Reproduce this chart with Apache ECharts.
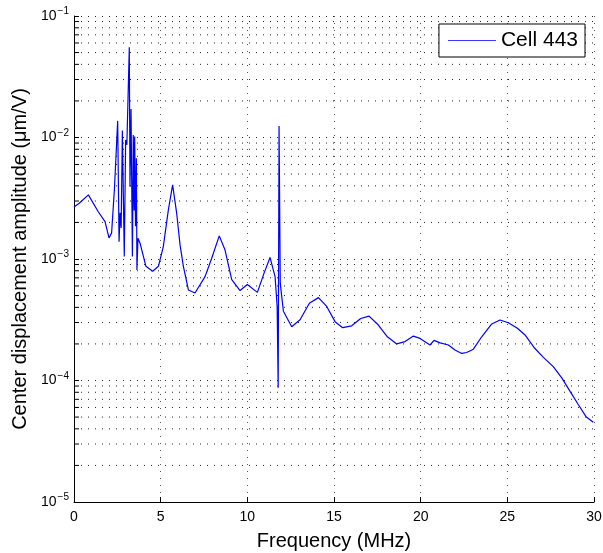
<!DOCTYPE html>
<html>
<head>
<meta charset="utf-8">
<script src="https://cdn.jsdelivr.net/npm/echarts@6/dist/echarts.min.js"></script>
<style>html,body{margin:0;padding:0;background:#fff}#c{width:603px;height:553px}</style>
</head>
<body>
<div id="c"></div>
<script>
var freq = [0.00,0.30,0.83,1.40,1.79,2.02,2.17,2.33,2.52,2.60,2.66,2.72,2.79,2.90,2.98,3.05,3.19,3.23,3.29,3.37,3.42,3.47,3.50,3.55,3.60,3.63,3.69,3.81,4.15,4.54,4.87,5.15,5.44,5.69,5.92,6.12,6.31,6.60,6.98,7.56,7.94,8.38,8.71,9.10,9.58,10.00,10.58,10.96,11.31,11.60,11.72,11.78,11.83,11.90,12.08,12.56,13.04,13.58,14.10,14.58,15.06,15.50,16.02,16.54,17.02,17.56,18.08,18.62,19.10,19.58,19.96,20.54,20.77,21.12,21.60,21.98,22.37,22.65,23.04,23.52,24.10,24.58,25.06,25.58,26.02,26.54,27.08,27.65,28.14,28.62,29.10,29.54,29.96];
var amplitude = [2.68e-3,2.88e-3,3.37e-3,2.45e-3,2.03e-3,1.49e-3,1.64e-3,3.72e-3,1.37e-2,1.39e-3,2.40e-3,1.80e-3,1.14e-2,1.05e-3,9.55e-3,8.7e-3,5.52e-2,3.94e-3,1.72e-2,1.05e-3,1.05e-2,2.51e-3,1.02e-2,1.86e-3,6.76e-3,8.13e-4,1.48e-3,1.35e-3,8.71e-4,7.94e-4,8.71e-4,1.26e-3,2.51e-3,4.07e-3,2.40e-3,1.30e-3,8.71e-4,5.56e-4,5.25e-4,7.16e-4,1.01e-3,1.55e-3,1.19e-3,6.76e-4,5.50e-4,6.17e-4,5.31e-4,7.62e-4,1.03e-3,7.16e-4,4.07e-4,8.7e-5,1.245e-2,6.3e-4,3.72e-4,2.77e-4,3.16e-4,4.32e-4,4.81e-4,4.07e-4,3.05e-4,2.72e-4,2.82e-4,3.24e-4,3.39e-4,2.86e-4,2.29e-4,2.00e-4,2.09e-4,2.32e-4,2.22e-4,1.96e-4,2.14e-4,2.04e-4,1.96e-4,1.78e-4,1.67e-4,1.70e-4,1.81e-4,2.29e-4,2.92e-4,3.15e-4,2.99e-4,2.69e-4,2.37e-4,1.87e-4,1.55e-4,1.30e-4,1.05e-4,8.13e-5,6.31e-5,5.04e-5,4.53e-5];
var seriesName = 'Cell 443';
var xTicks = [0,5,10,15,20,25,30];
var yDecades = [-5,-4,-3,-2,-1];

var X_MIN = 0, X_MAX = 30, TICK_LEN = 0.29;
var minorY = [];
for (var k = -5; k < -1; k++) {
  for (var m = 2; m <= 9; m++) minorY.push(m * Math.pow(10, k));
}
var pts = freq.map(function (f, i) { return [f, amplitude[i]]; });
var FONT = 'Liberation Sans, Arial, Helvetica, sans-serif';
var dotted = {color: '#222', width: 1, type: [1, 6]};

var series = [{
  name: seriesName, type: 'line', data: pts, symbol: 'none', showSymbol: false,
  lineStyle: {color: '#0000ff', width: 1.2}, itemStyle: {color: '#0000ff'},
  z: 5
}];
minorY.forEach(function (v) {
  series.push({
    type: 'line', silent: true, symbol: 'none', z: 1,
    data: [[X_MIN, v], [X_MAX, v]],
    lineStyle: dotted, emphasis: {disabled: true}, tooltip: {show: false}
  });
  series.push({
    type: 'line', silent: true, symbol: 'none', z: 2,
    data: [[X_MIN, v], [X_MIN + TICK_LEN, v]],
    lineStyle: {color: '#000', width: 1}, emphasis: {disabled: true}
  });
});

var chart = echarts.init(document.getElementById('c'));
chart.setOption({
  animation: false,
  backgroundColor: '#fff',
  textStyle: {fontFamily: FONT},
  grid: {left: 74, right: 9, top: 16, bottom: 51, containLabel: false, outerBoundsMode: 'none'},
  legend: {
    data: [seriesName],
    right: 18, top: 24,
    orient: 'vertical',
    icon: 'rect',
    itemWidth: 48, itemHeight: 1, itemGap: 4,
    itemStyle: {color: '#3a3aff'},
    padding: [6, 7, 6, 9],
    borderColor: '#000', borderWidth: 1, borderRadius: 0,
    backgroundColor: '#fff',
    textStyle: {fontSize: 21, color: '#000', fontFamily: FONT, lineHeight: 21}
  },
  xAxis: {
    type: 'value', min: X_MIN, max: X_MAX, interval: 5,
    name: 'Frequency (MHz)', nameLocation: 'middle', nameGap: 29,
    nameTextStyle: {fontSize: 20, color: '#000', fontFamily: FONT},
    axisLine: {show: true, onZero: false, lineStyle: {color: '#000', width: 1}},
    axisTick: {show: true, inside: true, length: 5, lineStyle: {color: '#000'}},
    axisLabel: {fontSize: 14, color: '#000', margin: 8, fontFamily: FONT,
      formatter: function (v) { return xTicks.indexOf(v) >= 0 ? String(v) : ''; }},
    splitLine: {show: true, lineStyle: {color: '#555', width: 1, type: [1, 6]}}
  },
  yAxis: {
    type: 'log', logBase: 10, min: 1e-5, max: 1e-1,
    name: 'Center displacement amplitude (\u03bcm/V)', nameLocation: 'middle', nameGap: 44,
    nameTextStyle: {fontSize: 20, color: '#000', fontFamily: FONT},
    axisLine: {show: true, onZero: false, lineStyle: {color: '#000', width: 1}},
    axisTick: {show: true, inside: true, length: 5, lineStyle: {color: '#000'}},
    axisLabel: {
      margin: 5, color: '#000', fontFamily: FONT,
      formatter: function (v) {
        var e = Math.round(Math.log(v) / Math.LN10);
        if (yDecades.indexOf(e) < 0) return '';
        return '{b|10}{e|\u2212' + Math.abs(e) + '}';
      },
      rich: {
        b: {fontSize: 14, color: '#000', fontFamily: FONT},
        e: {fontSize: 10, color: '#000', fontFamily: FONT, padding: [0, 0, 9, 1]}
      }
    },
    splitLine: {show: true, lineStyle: dotted}
  },
  series: series
});
</script>
</body>
</html>
